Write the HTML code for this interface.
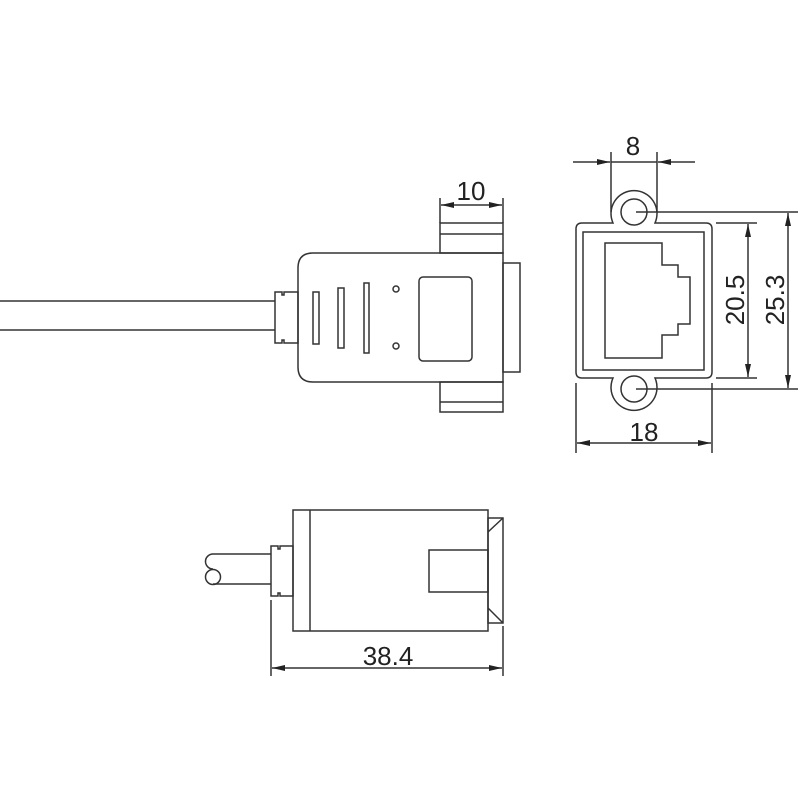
<!DOCTYPE html>
<html><head><style>html,body{margin:0;padding:0;background:#fff}svg{display:block}text{font-family:"Liberation Sans",sans-serif;fill:#222}</style></head>
<body>
<svg width="800" height="800" viewBox="0 0 800 800" xmlns="http://www.w3.org/2000/svg">
<defs>
<marker id="a" viewBox="0 0 13 6" refX="13" refY="3" markerWidth="13" markerHeight="6" orient="auto" markerUnits="userSpaceOnUse"><path d="M0,0 L13,3 L0,6 z" fill="#222"/></marker>
</defs>
<g fill="none" stroke="#333" stroke-width="1.5">
<line x1="0" y1="301" x2="275" y2="301"/>
<line x1="0" y1="330" x2="275" y2="330"/>
<path d="M275,292 H282 v3 h2 v-3 H298 V343 H284 v-3 h-2 v3 H275 Z"/>
<path d="M313,253 H503 V382 H313 Q298,382 298,367 V268 Q298,253 313,253 Z"/>
<rect x="440" y="223" width="63" height="30"/><line x1="440" y1="234" x2="503" y2="234"/>
<rect x="440" y="382" width="63" height="30"/><line x1="440" y1="402" x2="503" y2="402"/>
<rect x="503" y="263" width="17" height="109"/>
<rect x="313" y="292" width="6" height="52"/>
<rect x="338" y="288" width="6" height="60"/>
<rect x="364" y="283" width="5" height="70"/>
<circle cx="396" cy="289" r="3"/><circle cx="396" cy="346" r="3"/>
<rect x="419" y="277" width="53" height="84" rx="4"/>
<line x1="440" y1="198" x2="440" y2="223"/><line x1="503" y1="198" x2="503" y2="223"/>
<line x1="470" y1="205" x2="441" y2="205" marker-end="url(#a)"/>
<line x1="470" y1="205" x2="502" y2="205" marker-end="url(#a)"/>
<path d="M582,223 H613 A23,23 0 1 1 655,223 H706 Q712,223 712,229 V372 Q712,378 706,378 H655 A23,23 0 1 1 613,378 H582 Q576,378 576,372 V229 Q576,223 582,223 Z"/>
<circle cx="634" cy="212" r="13"/><circle cx="634" cy="389" r="13"/>
<rect x="583" y="232" width="121" height="138"/>
<path d="M605,243 H662 V265 H678 V277 H690 V324 H678 V335 H662 V358 H605 Z"/>
<line x1="611" y1="152" x2="611" y2="212"/><line x1="657" y1="152" x2="657" y2="212"/>
<line x1="573" y1="162" x2="610" y2="162" marker-end="url(#a)"/>
<line x1="695" y1="162" x2="658" y2="162" marker-end="url(#a)"/>
<line x1="611" y1="162" x2="657" y2="162"/>
<line x1="716" y1="223" x2="757" y2="223"/><line x1="716" y1="378" x2="757" y2="378"/>
<line x1="748" y1="300" x2="748" y2="224" marker-end="url(#a)"/>
<line x1="748" y1="300" x2="748" y2="377" marker-end="url(#a)"/>
<line x1="636" y1="212" x2="798" y2="212"/><line x1="636" y1="389" x2="798" y2="389"/>
<line x1="788" y1="300" x2="788" y2="213" marker-end="url(#a)"/>
<line x1="788" y1="300" x2="788" y2="388" marker-end="url(#a)"/>
<line x1="576" y1="383" x2="576" y2="453"/><line x1="712" y1="383" x2="712" y2="453"/>
<line x1="644" y1="443" x2="577" y2="443" marker-end="url(#a)"/>
<line x1="644" y1="443" x2="711" y2="443" marker-end="url(#a)"/>
<line x1="213" y1="554" x2="271" y2="554"/>
<line x1="213" y1="584" x2="271" y2="584"/>
<path d="M213,554 A7.5,7.5 0 0 0 213,569"/>
<circle cx="213" cy="577" r="7.5"/>
<path d="M271,546 H278 v3 h2 v-3 H293 V596 H280 v-3 h-2 v3 H271 Z"/>
<rect x="293" y="510" width="195" height="121"/>
<line x1="310" y1="510" x2="310" y2="631"/>
<rect x="488" y="518" width="15" height="105"/>
<line x1="488" y1="532" x2="503" y2="518"/>
<line x1="488" y1="608" x2="503" y2="623"/>
<rect x="429" y="550" width="59" height="42"/>
<line x1="271" y1="600" x2="271" y2="676"/><line x1="503" y1="626" x2="503" y2="676"/>
<line x1="387" y1="668" x2="272" y2="668" marker-end="url(#a)"/>
<line x1="387" y1="668" x2="502" y2="668" marker-end="url(#a)"/>
</g>
<g stroke="none" font-size="26">
<text x="471" y="200" text-anchor="middle">10</text>
<text x="633" y="155" text-anchor="middle">8</text>
<text x="644" y="441" text-anchor="middle">18</text>
<text x="388" y="665" text-anchor="middle">38.4</text>
<text transform="translate(744,300) rotate(-90)" text-anchor="middle">20.5</text>
<text transform="translate(784,300) rotate(-90)" text-anchor="middle">25.3</text>
</g>
</svg>
</body></html>
